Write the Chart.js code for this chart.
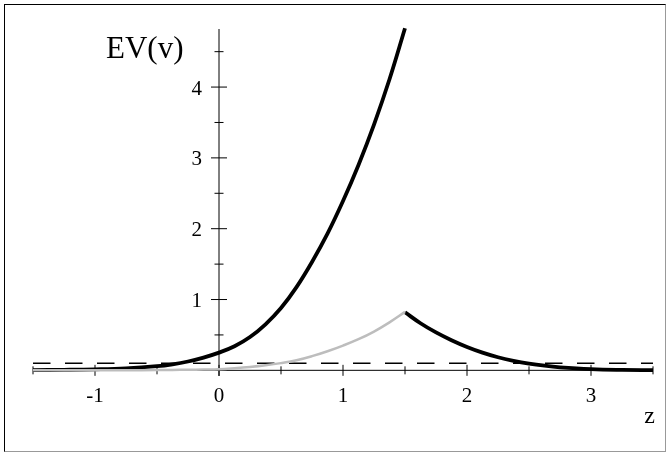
<!DOCTYPE html>
<html lang="en">
<head>
    <meta charset="UTF-8">
    <title>EV(v)</title>
    <script src="https://cdn.jsdelivr.net/npm/chart.js"></script>
    <style>
        body {
            margin: 0;
            padding: 0;
            background-color: #fff;
        }

        #wrap {
            position: relative;
            width: 670px;
            height: 455px;
        }

        #frame {
            position: absolute;
            left: 4px;
            top: 4px;
            width: 660px;
            height: 446px;
            border: 1px solid;
            border-color: #000 #999 #999 #000;
            pointer-events: none;
        }
    </style>
</head>
<body>
    <div id="wrap">
        <canvas id="evChart" width="670" height="455"></canvas>
        <div id="frame"></div>
    </div>

    <script>
        // values
        const zLeft = [-1.5, -1.25, -1, -0.75, -0.5, -0.375, -0.25, -0.125, 0, 0.125, 0.25, 0.375, 0.5, 0.625, 0.75, 0.875, 1, 1.125, 1.25, 1.375, 1.5];
        const evUpper = [0.003, 0.007, 0.014, 0.028, 0.058, 0.085, 0.125, 0.18, 0.25, 0.34, 0.47, 0.65, 0.88, 1.175, 1.53, 1.93, 2.39, 2.9, 3.47, 4.11, 4.83];
        const evLower = [0.0, 0.0, 0.001, 0.002, 0.004, 0.006, 0.008, 0.011, 0.015, 0.029, 0.047, 0.071, 0.102, 0.142, 0.2, 0.27, 0.35, 0.44, 0.548, 0.678, 0.825];

        const zRight = [1.5, 1.625, 1.75, 1.875, 2, 2.125, 2.25, 2.375, 2.5, 2.625, 2.75, 3, 3.25, 3.5];
        const evRight = [0.82, 0.665, 0.535, 0.425, 0.33, 0.25, 0.185, 0.135, 0.095, 0.065, 0.043, 0.017, 0.006, 0.002];

        const thresholdZ = [-1.5, 3.5];
        const thresholdEV = [0.1, 0.1];

        const xTickValues = [-1, 0, 1, 2, 3];
        const xTickLabels = ['-1', '0', '1', '2', '3'];
        const xMinorTicks = [-1.5, -0.5, 0.5, 1.5, 2.5, 3.5];
        const yTickValues = [1, 2, 3, 4];
        const yTickLabels = ['1', '2', '3', '4'];
        const yMinorTicks = [0.5, 1.5, 2.5, 3.5, 4.5];

        const pts = (xs, ys) => xs.map((x, i) => ({ x: x, y: ys[i] }));

        // axes through the origin, drawn from the chart's own scales
        const crossAxes = {
            id: 'crossAxes',
            beforeDatasetsDraw(chart) {
                const ctx = chart.ctx;
                const xs = chart.scales.x;
                const ys = chart.scales.y;
                const x0 = xs.getPixelForValue(0);
                const y0 = ys.getPixelForValue(0);
                const area = chart.chartArea;

                ctx.save();
                ctx.strokeStyle = '#000';
                ctx.lineWidth = 1;
                ctx.beginPath();
                ctx.moveTo(area.left, y0);
                ctx.lineTo(area.right, y0);
                ctx.moveTo(x0, area.top);
                ctx.lineTo(x0, area.bottom);

                xTickValues.forEach(v => {
                    const p = xs.getPixelForValue(v);
                    ctx.moveTo(p, y0 - 5.5);
                    ctx.lineTo(p, y0 + 5.5);
                });
                xMinorTicks.forEach(v => {
                    const p = xs.getPixelForValue(v);
                    ctx.moveTo(p, y0 - 4);
                    ctx.lineTo(p, y0 + 4);
                });
                yTickValues.forEach(v => {
                    const p = ys.getPixelForValue(v);
                    ctx.moveTo(x0 - 8, p);
                    ctx.lineTo(x0 + 8, p);
                });
                yMinorTicks.forEach(v => {
                    const p = ys.getPixelForValue(v);
                    ctx.moveTo(x0 - 4.5, p);
                    ctx.lineTo(x0 + 4.5, p);
                });
                ctx.stroke();

                ctx.fillStyle = '#000';
                ctx.font = '21px "Liberation Serif", serif';
                ctx.textAlign = 'center';
                ctx.textBaseline = 'alphabetic';
                xTickValues.forEach((v, i) => {
                    ctx.fillText(xTickLabels[i], xs.getPixelForValue(v), y0 + 32);
                });
                ctx.textAlign = 'right';
                yTickValues.forEach((v, i) => {
                    ctx.fillText(yTickLabels[i], x0 - 17, ys.getPixelForValue(v) + 7.5);
                });

                ctx.font = '24px "Liberation Serif", serif';
                ctx.fillText('z', area.right + 2, y0 + 53);

                ctx.textAlign = 'left';
                ctx.font = '31px "Liberation Serif", serif';
                ctx.fillText('EV(v)', x0 - 113, 57.5);
                ctx.restore();
            }
        };

        const ctx = document.getElementById('evChart').getContext('2d');
        new Chart(ctx, {
            type: 'line',
            data: {
                datasets: [
                    {
                        data: pts(zLeft, evLower),
                        borderColor: '#bdbdbd',
                        borderWidth: 2.5,
                        tension: 0.4
                    },
                    {
                        data: pts(zLeft, evUpper),
                        borderColor: '#000',
                        borderWidth: 3.8,
                        tension: 0.4
                    },
                    {
                        data: pts(zRight, evRight),
                        borderColor: '#000',
                        borderWidth: 3.8,
                        tension: 0.4
                    },
                    {
                        data: pts(thresholdZ, thresholdEV),
                        borderColor: '#000',
                        borderWidth: 1.3,
                        borderDash: [17.5, 14.5]
                    }
                ]
            },
            options: {
                responsive: false,
                animation: false,
                events: [],
                clip: 6,
                layout: {
                    padding: { left: 33, right: 17, top: 29, bottom: 79 }
                },
                elements: {
                    point: { radius: 0 },
                    line: { borderCapStyle: 'butt' }
                },
                plugins: {
                    legend: { display: false },
                    tooltip: { enabled: false }
                },
                scales: {
                    x: { type: 'linear', min: -1.5, max: 3.5, display: false },
                    y: { type: 'linear', min: -0.08, max: 4.82, display: false }
                }
            },
            plugins: [crossAxes]
        });
    </script>
</body>
</html>
